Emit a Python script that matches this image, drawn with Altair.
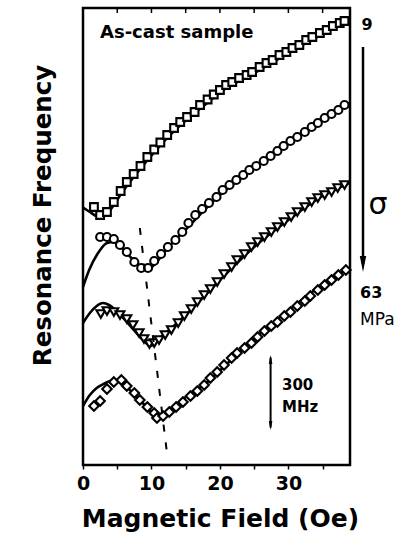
import altair as alt
import pandas as pd

# Resonance frequency (MHz, relative offset) vs. magnetic field (Oe)
# for the as-cast sample under increasing tensile stress (9 -> 63 MPa).

# 9 MPa (squares)
sq_h = [1.6, 2.5, 3.5, 4.5, 5.5, 6.4, 7.4, 8.4, 9.4, 10.4, 11.3, 12.3, 13.3, 14.2, 15.2,
        16.3, 17.1, 18.2, 19.1, 20.0, 20.9, 21.8, 22.8, 23.9, 24.7, 25.8, 26.8, 27.7, 28.7,
        29.7, 30.6, 31.6, 32.6, 33.5, 34.6, 35.6, 36.5, 37.5, 38.2]
sq_f = [1032, 1000, 1012, 1052, 1096, 1132, 1164, 1196, 1232, 1262, 1290, 1320, 1348, 1372, 1392,
        1412, 1440, 1462, 1482, 1500, 1520, 1532, 1548, 1560, 1572, 1592, 1608, 1620, 1640,
        1652, 1668, 1680, 1700, 1712, 1728, 1740, 1756, 1768, 1776]
sq_fit_h = [0, 1, 2, 2.7, 3.5, 4.5, 5.5, 6.5, 8, 10, 12, 15, 18, 20, 25, 30, 35, 38.9]
sq_fit_f = [1030, 1012, 995, 990, 1005, 1040, 1082, 1120, 1172, 1238, 1300, 1378, 1445, 1490,
            1567, 1648, 1724, 1785]

# intermediate stress (circles)
ci_h = [2.5, 3.5, 4.5, 5.4, 6.4, 7.5, 8.5, 9.5, 10.4, 11.4, 12.4, 13.5, 14.5, 15.4, 16.4,
        17.4, 18.4, 19.5, 20.4, 21.4, 22.4, 23.4, 24.3, 25.3, 26.4, 27.4, 28.4, 29.3, 30.3,
        31.3, 32.4, 33.4, 34.3, 35.3, 36.3, 37.3, 38.2]
ci_f = [912, 912, 904, 880, 852, 812, 788, 788, 816, 844, 872, 900, 932, 968, 1000,
        1024, 1048, 1072, 1100, 1120, 1140, 1160, 1180, 1196, 1216, 1236, 1256, 1276, 1296,
        1312, 1332, 1352, 1368, 1388, 1404, 1420, 1440]
ci_fit_h = [0, 0.9, 2.3, 3.5, 4.5, 5.5, 6.5, 7.5, 8.5, 9.3, 10.5, 12, 15, 20, 25, 30, 35, 38.9]
ci_fit_f = [712, 780, 852, 888, 892, 872, 844, 816, 792, 780, 804, 855, 942, 1080, 1186,
            1286, 1380, 1448]

# intermediate stress (down triangles)
tr_h = [2.6, 3.5, 4.5, 5.4, 6.4, 7.3, 8.2, 8.9, 9.7, 10.4, 11.1, 12.0, 12.9, 13.9, 14.8,
        15.8, 16.7, 17.7, 18.6, 19.6, 20.6, 21.7, 22.5, 23.6, 24.6, 25.5, 26.5, 27.5, 28.4,
        29.4, 30.4, 31.3, 32.4, 33.4, 34.3, 35.3, 36.3, 37.2, 38.2]
tr_f = [604, 616, 612, 600, 584, 560, 528, 504, 484, 488, 500, 520, 540, 568, 596,
        624, 652, 680, 704, 732, 764, 792, 820, 844, 872, 892, 912, 932, 952,
        972, 992, 1012, 1032, 1052, 1068, 1080, 1092, 1108, 1120]
tr_fit_h = [0, 1, 2, 2.9, 3.8, 4.7, 5.6, 6.4, 7.3, 8.2, 9.1, 9.8, 10.6, 11.4, 12.6, 15, 20,
            25, 30, 35, 38.9]
tr_fit_f = [568, 608, 636, 648, 640, 620, 596, 572, 544, 516, 492, 476, 488, 512, 540, 600,
            740, 872, 980, 1076, 1128]

# 63 MPa (diamonds)
di_h = [1.6, 2.5, 3.5, 4.5, 5.6, 6.4, 7.5, 8.3, 9.4, 10.4, 10.8, 11.7, 12.6, 13.6, 14.6,
        15.7, 16.7, 17.7, 18.6, 19.6, 20.6, 21.7, 22.5, 23.6, 24.6, 25.5, 26.5, 27.5, 28.4,
        29.4, 30.3, 31.3, 32.4, 33.2, 34.3, 35.3, 36.3, 37.3, 38.4]
di_f = [236, 256, 304, 332, 340, 316, 288, 260, 232, 208, 188, 196, 212, 232, 252,
        276, 296, 320, 348, 372, 400, 428, 448, 468, 488, 512, 536, 556, 572,
        596, 612, 636, 656, 676, 700, 720, 740, 760, 780]
di_fit_h = [0, 1, 2, 3, 4, 5, 6, 7, 8, 9, 10, 11, 12, 13, 15, 18, 20, 25, 30, 35, 38.9]
di_fit_f = [236, 280, 308, 324, 336, 340, 324, 296, 268, 240, 212, 184, 200, 224, 272, 328,
            378, 506, 618, 722, 788]

# locus of the minima (dashed guide)
min_h = [8.3, 12.3]
min_f = [948, 40]

# 300 MHz scale bar
bar_h = [27.4, 27.4]
bar_f = [140, 440]

x_ticks = [0, 5, 10, 15, 20, 25, 30, 35]

FONT = "DejaVu Sans"
xs = alt.Scale(domain=[0, 39], nice=False, zero=False)
ys = alt.Scale(domain=[0, 1828], nice=False, zero=False)

x_axis = alt.Axis(
    values=x_ticks,
    labelExpr="datum.value % 10 === 0 ? datum.label : ''",
    title="Magnetic Field (Oe)",
    titleFont=FONT, titleFontSize=25, titleFontWeight="bold", titleColor="black",
    titleX=137, titleY=61, titleBaseline="alphabetic", titleAlign="center",
    labelFont=FONT, labelFontSize=19, labelFontWeight="bold", labelColor="black",
    labelPadding=5, labelFlush=False, labelOverlap=False,
    tickSize=4, tickWidth=1.5, tickColor="black",
    domain=False, grid=False,
)
y_axis = alt.Axis(
    title="Resonance Frequency",
    titleFont=FONT, titleFontSize=24.5, titleFontWeight="bold", titleColor="black",
    titleAngle=270, titleX=-33, titleY=207, titleBaseline="alphabetic", titleAlign="center",
    labels=False, ticks=False, domain=False, grid=False,
)


def enc(chart):
    return chart.encode(
        x=alt.X("H:Q", scale=xs, axis=x_axis),
        y=alt.Y("f:Q", scale=ys, axis=y_axis),
    )


def frame(h, f):
    return pd.DataFrame({"H": h, "f": f})


def fit(h, f):
    return enc(alt.Chart(frame(h, f)).mark_line(
        color="black", strokeWidth=2.6, interpolate="monotone"))


def markers(h, f, shape, size):
    return enc(alt.Chart(frame(h, f)).mark_point(
        shape=shape, size=size, filled=True, fill="white", stroke="black",
        strokeWidth=2.1, opacity=1))


layers = [
    fit(sq_fit_h, sq_fit_f),
    fit(ci_fit_h, ci_fit_f),
    fit(tr_fit_h, tr_fit_f),
    fit(di_fit_h, di_fit_f),
    markers(sq_h, sq_f, "square", 60),
    markers(ci_h, ci_f, "circle", 64),
    markers(tr_h, tr_f, "triangle-down", 78),
    markers(di_h, di_f, "diamond", 90),
    enc(alt.Chart(frame(min_h, min_f)).mark_line(
        color="black", strokeWidth=2, strokeDash=[7, 11])),
    enc(alt.Chart(frame(bar_h, [bar_f[0] + 10, bar_f[1] - 10])).mark_line(
        color="black", strokeWidth=2)),
]

# arrowheads of the 300 MHz bar
head_up = "M-0.4,1L0.4,1L0,-1Z"
head_down = "M-0.4,-1L0.4,-1L0,1Z"
layers.append(enc(alt.Chart(frame([bar_h[1]], [bar_f[1] - 18])).mark_point(
    shape=head_up, size=81, filled=True, color="black", opacity=1)))
layers.append(enc(alt.Chart(frame([bar_h[0]], [bar_f[0] + 18])).mark_point(
    shape=head_down, size=81, filled=True, color="black", opacity=1)))

# top frame ticks (inward)
layers.append(alt.Chart(pd.DataFrame({"H": x_ticks[1:]})).mark_rule(
    color="black", strokeWidth=1.5).encode(
    x=alt.X("H:Q", scale=xs, axis=x_axis), y=alt.value(0), y2=alt.value(5)))

# stress arrow at the right margin
one = pd.DataFrame({"k": [0]})
layers.append(alt.Chart(one).mark_rule(color="black", strokeWidth=2.5).encode(
    x=alt.value(280), y=alt.value(39), y2=alt.value(256)))
layers.append(alt.Chart(one).mark_point(
    shape=head_down, size=256, filled=True, color="black", opacity=1).encode(
    x=alt.value(280), y=alt.value(256)))


def label(text, x, y, size, weight="bold", align="left"):
    return alt.Chart(one).mark_text(
        text=text, font=FONT, fontSize=size, fontWeight=weight, align=align,
        baseline="alphabetic", color="black").encode(x=alt.value(x), y=alt.value(y))


layers += [
    label("As-cast sample", 17, 30, 18),
    label("9", 284, 22, 16, align="center"),
    label("σ", 295, 206, 30, weight="normal", align="center"),
    label("63", 277, 290, 16),
    label("MPa", 277, 317, 17, weight="normal"),
    label("300", 199, 382, 15),
    label("MHz", 199, 404, 15),
]

chart = alt.layer(*layers).properties(
    width=267, height=457,
    autosize=alt.AutoSizeParams(type="none"),
    padding={"left": 83, "top": 8, "right": 55, "bottom": 68},
    background="white",
).configure_view(stroke="black", strokeWidth=2.5)

chart.save("out.html", embed_options={"renderer": "svg", "actions": False})
